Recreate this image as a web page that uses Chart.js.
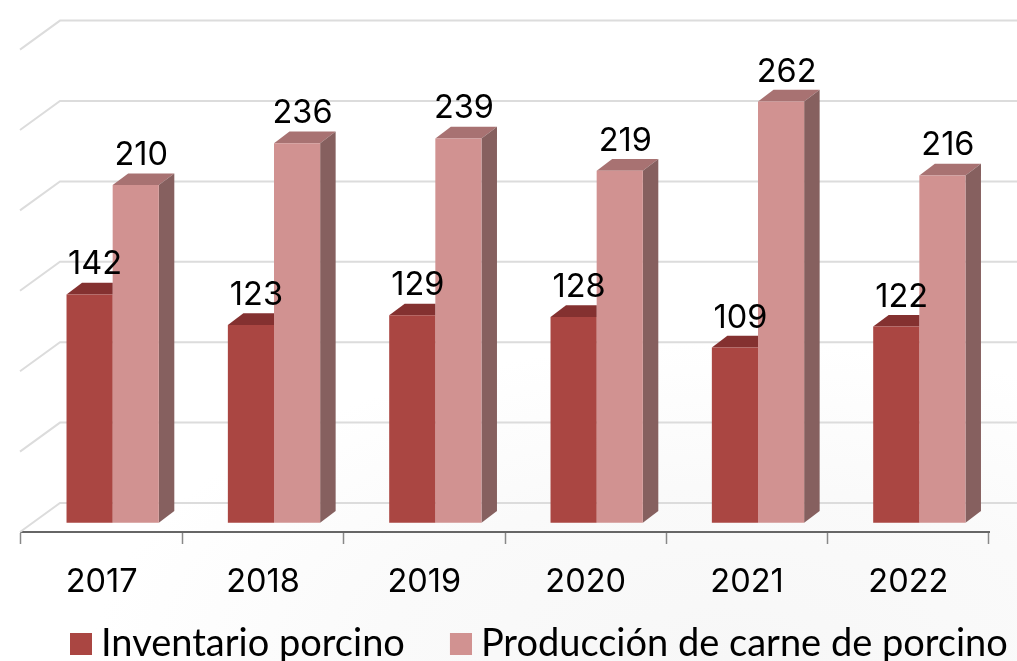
<!DOCTYPE html>
<html><head><meta charset="utf-8">
<style>html,body{margin:0;padding:0;width:1017px;height:661px;overflow:hidden;background:radial-gradient(ellipse 640px 320px at 72% 100%,#f7f7f7 0%,#fafafa 55%,#ffffff 100%)}canvas{display:block}</style>
<script src="https://cdn.jsdelivr.net/npm/chart.js@4"></script></head>
<body><canvas id="c" width="1017" height="661"></canvas>
<script>
const years=['2017','2018','2019','2020','2021','2022'];
const inventario=[142,123,129,128,109,122];
const produccion=[210,236,239,219,262,216];
const seriesNames=['Inventario porcino','Producción de carne de porcino'];
const FONT='Lato', NUMFONT='Inter';
const faces=[{front:'#aa4642',top:'#843130'},{front:'#d19291',top:'#a87272',side:'#86605f'}];
const DEPTH={x:15.5,y:11.7}, SHIFT={x:11,y:-9.2}, BACK={x:40,y:-29};
const LEG_PAD=45;
function swatch(color){const k=document.createElement('canvas');k.width=32;k.height=22;const g=k.getContext('2d');g.fillStyle=color;g.fillRect(10,0,22,22);return k;}
const scene={id:'scene',
 beforeLayout(ch){const l=ch.legend;if(!l._wide){l._wide=true;const f=l.fit;l.fit=function(){this.maxWidth=1400;f.call(this);};}},
 afterLayout(ch){const l=ch.legend;l.left=70-LEG_PAD;l.width=1100;l.right=l.left+l.width;l.top=644-19-LEG_PAD;l.height=140;l.bottom=l.top+l.height;},
 beforeDatasetsDraw(ch){const {ctx,scales:{y},chartArea:a}=ch;ctx.save();ctx.strokeStyle='#dcdcdc';ctx.lineWidth=2;
  y.ticks.forEach(t=>{const p=y.getPixelForValue(t.value);ctx.beginPath();ctx.moveTo(a.left-1,p);ctx.lineTo(a.left-1+BACK.x,p+BACK.y);ctx.lineTo(1017,p+BACK.y);ctx.stroke();});ctx.restore();},
 beforeDatasetDraw(ch,{index,meta}){const ctx=ch.ctx,f=faces[index];ctx.save();ctx.translate(SHIFT.x,SHIFT.y);
  meta.data.forEach(b=>{const {x,y,width,base}=b.getProps(['x','y','width','base'],true);const l=x-width/2,r=x+width/2;
   const tr=index===0?r:r+DEPTH.x;
   ctx.fillStyle=f.top;ctx.beginPath();ctx.moveTo(l,y);ctx.lineTo(l+DEPTH.x,y-DEPTH.y);ctx.lineTo(tr,y-DEPTH.y);ctx.lineTo(r,y);ctx.closePath();ctx.fill();
   if(f.side){ctx.fillStyle=f.side;ctx.beginPath();ctx.moveTo(r,y);ctx.lineTo(r+DEPTH.x,y-DEPTH.y);ctx.lineTo(r+DEPTH.x,base-DEPTH.y);ctx.lineTo(r,base);ctx.closePath();ctx.fill();}});},
 afterDatasetDraw(ch){ch.ctx.restore();},
 afterDatasetsDraw(ch){const ctx=ch.ctx;ctx.save();ctx.fillStyle='#000';ctx.font='400 32.5px '+NUMFONT;ctx.textAlign='center';ctx.textBaseline='alphabetic';
  ch.data.datasets.forEach((d,i)=>{ch.getDatasetMeta(i).data.forEach((b,j)=>{ctx.fillText(String(d.data[j]),b.x+SHIFT.x+5.5,b.y+SHIFT.y-20);});});ctx.restore();}
};
new Chart(document.getElementById('c'),{type:'bar',
 data:{labels:years,datasets:[
  {label:seriesNames[0],data:inventario,backgroundColor:faces[0].front,clip:false},
  {label:seriesNames[1],data:produccion,backgroundColor:faces[1].front,clip:false}]},
 options:{responsive:false,animation:false,events:[],
  layout:{padding:{left:21,right:28,top:49.6,bottom:0}},
  datasets:{bar:{categoryPercentage:0.572,barPercentage:1}},
  plugins:{tooltip:{enabled:false},
   legend:{position:'bottom',align:'start',maxHeight:50,labels:{color:'#000',font:{family:FONT,size:38},boxWidth:12,boxHeight:22,padding:LEG_PAD,usePointStyle:true,pointStyleWidth:12,
     generateLabels(ch){return Chart.defaults.plugins.legend.labels.generateLabels(ch).map((it,i)=>({...it,pointStyle:swatch(faces[i].front)}));}}}},
  scales:{
   x:{grid:{offset:true,drawOnChartArea:false,drawTicks:true,tickLength:12,color:'#888',tickWidth:1.5},border:{color:'#666',width:2},
      ticks:{color:'#000',font:{family:NUMFONT,size:32.5,weight:'400'},padding:19,maxRotation:0},afterFit(s){s.height=79;}},
   y:{display:false,min:0,max:300,ticks:{stepSize:50}}
  }},
 plugins:[scene]});
</script></body></html>
